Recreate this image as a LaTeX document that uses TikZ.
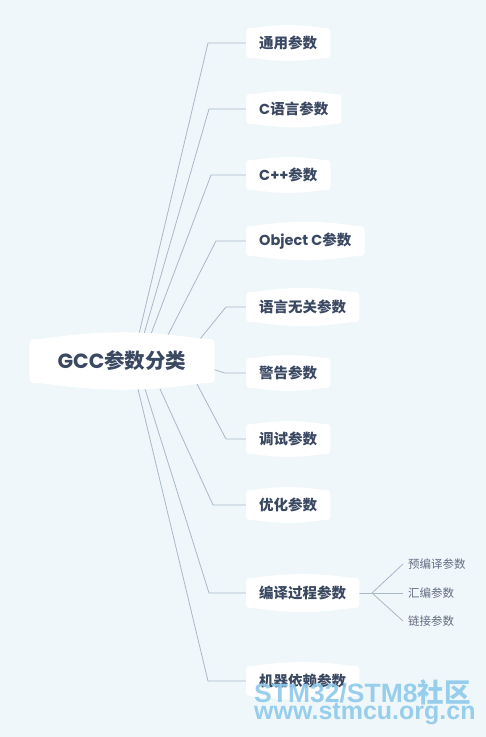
\documentclass[tikz,border=0pt]{standalone}
\usepackage{fontspec}
\setmainfont{Noto Sans CJK SC}
\newfontfamily\cjk{Noto Sans CJK SC}
\newfontfamily\lat{Poppins}
\newfontfamily\wmfont{Liberation Sans}
\definecolor{bgc}{HTML}{EFF7FA}
\definecolor{txt}{HTML}{3B4862}
\definecolor{ln}{HTML}{AAB8C8}
\definecolor{wmc}{HTML}{8ECAEA}
\pgfdeclarelayer{bglayer}
\pgfdeclarelayer{lines}
\pgfdeclarelayer{bubbles}
\pgfsetlayers{bglayer,lines,bubbles,main}
\tikzset{
  bubble/.style={inner xsep=13pt, inner ysep=0pt, minimum height=30pt, font=\fontsize{14.5}{14.5}\selectfont\bfseries, text=txt, anchor=west},
  rootbox/.style={minimum width=185pt, minimum height=44pt, inner sep=0pt, font=\fontsize{20.5}{20.5}\selectfont\bfseries, text=txt},
  conn/.style={draw=ln, line width=0.8pt},
  leaf/.style={font=\fontsize{11.5}{12}\selectfont, text=txt!80, anchor=west, inner xsep=5pt, inner ysep=0pt},
  wmtxt/.style={text=wmc, opacity=0.9, anchor=base west, inner sep=0pt},
}
\newcommand\bub[2]{\fill[white] ([xshift=#2]#1.north west) to[bend left=8] ([xshift=-#2]#1.north east) .. controls (#1.north east) .. ([yshift=-#2]#1.north east) -- ([yshift=#2]#1.south east) .. controls (#1.south east) .. ([xshift=-#2]#1.south east) to[bend left=8] ([xshift=#2]#1.south west) .. controls (#1.south west) .. ([yshift=#2]#1.south west) -- ([yshift=-#2]#1.north west) .. controls (#1.north west) .. cycle;}
\begin{document}
\begin{tikzpicture}[x=1pt,y=1pt]
\begin{pgfonlayer}{bglayer}
\fill[bgc] (0,0) rectangle (486,-737);
\end{pgfonlayer}
\useasboundingbox (0,0) rectangle (486,-737);

\node[rootbox] (root) at (122,-361) {{\lat GCC}参数分类};

\node[bubble] (c1) at (246,-43) {通用参数};
\node[bubble] (c2) at (246,-109) {{\lat C}语言参数};
\node[bubble] (c3) at (246,-175) {{\lat C++}参数};
\node[bubble] (c4) at (246,-241) {{\lat Object C}参数};
\node[bubble] (c5) at (246,-307) {语言无关参数};
\node[bubble] (c6) at (246,-373) {警告参数};
\node[bubble] (c7) at (246,-439) {调试参数};
\node[bubble] (c8) at (246,-505) {优化参数};
\node[bubble] (c9) at (246,-593) {编译过程参数};
\node[bubble] (c10) at (246,-681) {机器依赖参数};

\node[leaf] (l1) at (403,-564) {预编译参数};
\node[leaf] (l2) at (403,-593) {汇编参数};
\node[leaf] (l3) at (403,-621) {链接参数};

% start points on root, corners
\coordinate (s1) at (139,-334); \coordinate (k1) at (208,-43);
\coordinate (s2) at (144,-334); \coordinate (k2) at (209,-109);
\coordinate (s3) at (151,-334); \coordinate (k3) at (211,-175);
\coordinate (s4) at (168,-335); \coordinate (k4) at (216,-241);
\coordinate (s5) at (200,-339); \coordinate (k5) at (226,-307);
\coordinate (s6) at (212,-369); \coordinate (k6) at (225,-373);
\coordinate (s7) at (197,-384); \coordinate (k7) at (226,-439);
\coordinate (s8) at (160,-389); \coordinate (k8) at (213,-505);
\coordinate (s9) at (145,-389); \coordinate (k9) at (209,-593);
\coordinate (s10) at (138,-389); \coordinate (k10) at (208,-681);
\coordinate (br) at (372,-593);

\begin{pgfonlayer}{lines}
\foreach \i in {1,...,10} {\draw[conn] (s\i) -- (k\i) -- (c\i.west);}
\draw[conn] (c9.east) -- (br);
\draw[conn] (br) -- (l1.west);
\draw[conn] (br) -- (l2.west);
\draw[conn] (br) -- (l3.west);
\end{pgfonlayer}

\begin{pgfonlayer}{bubbles}
\bub{root}{12pt}
\foreach \i in {1,...,10} {\bub{c\i}{9pt}}
\end{pgfonlayer}

\node[wmtxt] (wm1) at (254,-702) {\fontsize{26.5}{27}\selectfont\wmfont\bfseries STM32/STM8{\cjk\bfseries 社区}};
\node[wmtxt] (wm2) at (254,-719) {\fontsize{25}{26}\selectfont\wmfont\bfseries www.stmcu.org.cn};
\end{tikzpicture}
\end{document}
